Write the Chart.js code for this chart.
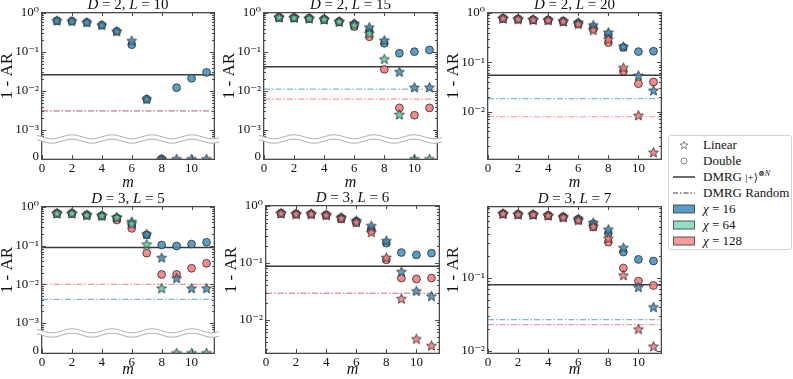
<!DOCTYPE html>
<html>
<head>
<meta charset="utf-8">
<title>1 - AR vs m</title>
<script src="https://cdn.jsdelivr.net/npm/chart.js@4.4.1/dist/chart.umd.min.js"></script>
<style>
  html, body { margin: 0; padding: 0; background: #fff; }
  #wrap { position: relative; width: 793px; height: 379px; overflow: hidden; font-family: "Liberation Serif", "DejaVu Serif", serif; color: #111; }
  #wrap canvas { position: absolute; }
  #legend { position: absolute; left: 668px; top: 135px; width: 124px; height: 115px; box-sizing: border-box; border: 1px solid #d4d4d4; border-radius: 3px; background: #fff; font-size: 13px; }
  #legend .row { position: absolute; left: 0; right: 0; height: 16px; line-height: 16px; }
  #legend svg { position: absolute; left: 4px; top: 3px; }
  #legend .lab { position: absolute; left: 34px; white-space: nowrap; }
  #legend sup { font-size: 8px; line-height: 0; }
</style>
</head>
<body>
<div id="wrap"><div id="legend"></div></div>
<script>
// x axis
const M = [1, 2, 3, 4, 5, 6, 7, 8, 9, 10, 11];
const X_TICKS = [0, 2, 4, 6, 8, 10];
const X_MAX = 11.5;

// panel titles
const TITLE_D = [2, 2, 2, 3, 3, 3];
const TITLE_L = [10, 15, 20, 5, 6, 7];

// 1 - AR, one row per panel. null = series not in panel, 0 = drawn on the "0" axis
const LIN16 = [
  [0.635, 0.62, 0.577, 0.49, 0.34, 0.195, 0.0062, 0, 0, 0, 0],
  [0.776, 0.76, 0.73, 0.69, 0.60, 0.54, 0.43, 0.20, 0.031, 0.0124, 0.0124],
  [0.78, 0.754, 0.73, 0.72, 0.68, 0.646, 0.57, 0.405, 0.21, 0.054, 0.027],
  [0.687, 0.687, 0.62, 0.60, 0.54, 0.417, 0.20, 0.049, 0.0144, 0.0079, 0.0079],
  [0.745, 0.724, 0.724, 0.695, 0.633, 0.552, 0.45, 0.246, 0.070, 0.032, 0.026],
  [0.76, 0.746, 0.74, 0.72, 0.69, 0.65, 0.575, 0.465, 0.26, 0.075, 0.040]
];
const DBL16 = [
  [0.635, 0.62, 0.577, 0.49, 0.34, 0.154, 0.0062, 0, 0.0122, 0.0212, 0.030],
  [0.776, 0.76, 0.73, 0.69, 0.60, 0.52, 0.35, 0.167, 0.093, 0.102, 0.113],
  [0.78, 0.754, 0.73, 0.72, 0.68, 0.62, 0.51, 0.36, 0.20, 0.165, 0.168],
  [0.687, 0.687, 0.62, 0.60, 0.52, 0.34, 0.19, 0.104, 0.098, 0.11, 0.122],
  [0.745, 0.724, 0.724, 0.695, 0.62, 0.54, 0.395, 0.222, 0.152, 0.138, 0.148],
  [0.76, 0.746, 0.74, 0.72, 0.69, 0.64, 0.55, 0.41, 0.227, 0.18, 0.171]
];
const LIN64 = [
  null,
  [0.776, 0.76, 0.73, 0.69, 0.60, 0.49, 0.30, 0.066, 0.0025, 0, 0],
  null,
  [0.687, 0.687, 0.62, 0.60, 0.54, 0.37, 0.109, 0.0079, 0, 0, 0],
  null,
  null
];
const LIN128 = [
  null,
  null,
  [0.78, 0.754, 0.73, 0.72, 0.68, 0.60, 0.45, 0.295, 0.078, 0.0084, 0.0015],
  null,
  [0.745, 0.724, 0.724, 0.695, 0.61, 0.52, 0.346, 0.124, 0.0235, 0.0046, 0.0035],
  [0.76, 0.746, 0.74, 0.72, 0.68, 0.62, 0.51, 0.35, 0.109, 0.020, 0.0116]
];
const DBL128 = [
  null,
  [0.776, 0.76, 0.73, 0.69, 0.60, 0.45, 0.246, 0.036, 0.0037, 0.0024, 0.0037],
  [0.78, 0.754, 0.73, 0.72, 0.68, 0.60, 0.47, 0.252, 0.066, 0.037, 0.040],
  [0.687, 0.687, 0.62, 0.58, 0.46, 0.28, 0.064, 0.018, 0.018, 0.026, 0.035],
  [0.745, 0.724, 0.724, 0.69, 0.59, 0.51, 0.364, 0.113, 0.054, 0.052, 0.054],
  [0.76, 0.746, 0.74, 0.72, 0.68, 0.62, 0.50, 0.31, 0.137, 0.091, 0.079]
];

// reference lines
const DMRG_PLUS = [0.026, 0.042, 0.055, 0.089, 0.087, 0.081];
const RAND16 = [0.0031, 0.0112, 0.0184, 0.0041, 0.029, 0.027];
const RAND128 = [0.0031, 0.0062, 0.0079, 0.010, 0.029, 0.023];

// log axis range, and which panels get the broken "0" axis
const Y_MIN = [5.9e-4, 5.9e-4, 1.1e-3, 5.5e-4, 2.6e-3, 9.4e-3];
const Y_MAX = [1, 1, 1, 1, 1, 0.94];
const BROKEN = [true, true, false, true, false, false];

// ---- layout / style ----
const LAYOUT = [
  {left: 42, width: 172, top: 13, bottom: 159, cut: 139},
  {left: 264, width: 173, top: 13, bottom: 159, cut: 139},
  {left: 488, width: 173, top: 13, bottom: 159},
  {left: 42, width: 172, top: 207, bottom: 353, cut: 333},
  {left: 266, width: 173, top: 206, bottom: 353},
  {left: 488, width: 173, top: 207, bottom: 353}
];
const ROWS = [{top: 0, height: 192, label: 76}, {top: 192, height: 187, label: 270}];
const YW = 42;
const SERIF = '"Liberation Serif", "DejaVu Serif", serif';
const EDGE = '#2b2b2b';
const AXIS = '#4a4a4a';
const C16 = 'rgba(72,146,192,0.9)';
const C64 = 'rgba(96,206,160,0.9)';
const C128 = 'rgba(244,124,126,0.9)';
const DASHDOT = [6, 2, 1.5, 2];

const SUP = {'0': '⁰', '1': '¹', '2': '²', '3': '³', '4': '⁴', '-': '⁻'};
const sup = n => String(n).split('').map(c => SUP[c]).join('');

function starImage(fill, R) {
  const s = Math.ceil(2 * R + 2);
  const c = document.createElement('canvas');
  c.width = s; c.height = s;
  const g = c.getContext('2d');
  g.beginPath();
  for (let k = 0; k < 10; k++) {
    const r = k % 2 ? R * 0.45 : R;
    const a = -Math.PI / 2 + k * Math.PI / 5;
    g.lineTo(s / 2 + r * Math.cos(a), s / 2 + r * Math.sin(a) + 0.4);
  }
  g.closePath();
  g.fillStyle = fill; g.fill();
  g.lineWidth = 0.8; g.strokeStyle = EDGE; g.stroke();
  return c;
}

// bottom -> top drawing order
const SERIES = [
  {rows: DBL16, color: C16, shape: 'circle'},
  {rows: DBL128, color: C128, shape: 'circle'},
  {rows: LIN16, color: C16, shape: 'star'},
  {rows: LIN64, color: C64, shape: 'star'},
  {rows: LIN128, color: C128, shape: 'star'}
];
const LINES = [
  {rows: RAND16, color: 'rgba(120,178,214,0.95)', width: 1.2, dash: DASHDOT},
  {rows: RAND128, color: 'rgba(246,140,142,0.9)', width: 1.2, dash: DASHDOT},
  {rows: DMRG_PLUS, color: '#3a3a3a', width: 1.5, dash: []}
];

const wrap = document.getElementById('wrap');

function decoPlugin(i) {
  const row = ROWS[i < 3 ? 0 : 1];
  return {
    id: 'deco' + i,
    afterDraw(chart) {
      const ctx = chart.ctx;
      const a = chart.chartArea;
      const ys = chart.scales.y, xs = chart.scales.x;
      const L0 = Math.round(a.left), R0 = Math.round(a.right), T0 = Math.round(a.top), B0 = Math.round(a.bottom);
      ctx.save();
      ctx.fillStyle = AXIS;
      // log ticks (inside, both sides)
      for (let e = Math.floor(Math.log10(ys.min)); e <= 0; e++) {
        for (let k = 1; k < 10; k++) {
          const v = k * Math.pow(10, e);
          if (v < ys.min || v > ys.max * 1.0001) continue;
          const py = Math.round(ys.getPixelForValue(v));
          const len = k === 1 ? 4 : 2;
          ctx.fillRect(L0, py, len, 1);
          ctx.fillRect(R0 - len, py, len, 1);
        }
      }
      X_TICKS.forEach(v => {
        const px = Math.round(xs.getPixelForValue(v));
        ctx.fillRect(px, B0 - 4, 1, 4);
        ctx.fillRect(px, T0, 1, 3);
      });
      // frame
      ctx.fillRect(L0 - 1, T0 - 1, R0 - L0 + 2, 1.3);
      ctx.fillRect(L0 - 1, B0 - 0.3, R0 - L0 + 2, 1.3);
      ctx.fillRect(L0 - 1, T0 - 1, 1.3, B0 - T0 + 2);
      ctx.fillRect(R0 - 0.3, T0 - 1, 1.3, B0 - T0 + 2);
      // axis break
      if (BROKEN[i]) {
        const yb = ys.bottom;
        const x0 = L0 - 5, x1 = R0 + 5, amp = 2, per = 40, gap = 2.2;
        const w = (x, off) => yb + off + amp * Math.sin((x - L0) / per * 2 * Math.PI);
        ctx.beginPath();
        for (let x = x0; x <= x1; x++) ctx.lineTo(x, w(x, -gap));
        for (let x = x1; x >= x0; x--) ctx.lineTo(x, w(x, gap));
        ctx.closePath();
        ctx.fillStyle = '#fff';
        ctx.fill();
        ctx.strokeStyle = '#b0b0b0';
        ctx.lineWidth = 1;
        [-gap, gap].forEach(off => {
          ctx.beginPath();
          for (let x = x0; x <= x1; x++) ctx.lineTo(x, w(x, off));
          ctx.stroke();
        });
        // "0" of the lower axis
        ctx.fillStyle = '#111';
        ctx.font = '13px ' + SERIF;
        ctx.textAlign = 'right';
        ctx.textBaseline = 'middle';
        ctx.fillText('0', L0 - 3, B0 - 2);
      }
      // title
      ctx.fillStyle = '#111';
      ctx.textBaseline = 'middle';
      ctx.textAlign = 'left';
      const parts = [['D', true], [' = ' + TITLE_D[i] + ', ', false], ['L', true], [' = ' + TITLE_L[i], false]];
      const fnt = it => (it ? 'italic ' : '') + '15px ' + SERIF;
      let tw = 0;
      parts.forEach(p => { ctx.font = fnt(p[1]); tw += ctx.measureText(p[0]).width; });
      let tx = (a.left + a.right) / 2 - tw / 2;
      parts.forEach(p => { ctx.font = fnt(p[1]); ctx.fillText(p[0], tx, a.top - 8); tx += ctx.measureText(p[0]).width; });
      // y label
      ctx.save();
      ctx.translate(YW - 34, row.label - row.top);
      ctx.rotate(-Math.PI / 2);
      ctx.textAlign = 'center';
      ctx.font = '17px ' + SERIF;
      ctx.fillText('1 - AR', 0, 0);
      ctx.restore();
      ctx.restore();
    }
  };
}

function makeChart(i) {
  const P = LAYOUT[i];
  const row = ROWS[i < 3 ? 0 : 1];
  const cv = document.createElement('canvas');
  const cw = YW + P.width + 12;
  cv.width = cw; cv.height = row.height;
  cv.style.width = cw + 'px'; cv.style.height = row.height + 'px';
  cv.style.left = (P.left - YW) + 'px';
  cv.style.top = row.top + 'px';
  wrap.appendChild(cv);

  const datasets = [];
  LINES.forEach(l => {
    datasets.push({
      data: [{x: 0, y: l.rows[i]}, {x: X_MAX, y: l.rows[i]}],
      yAxisID: 'y', showLine: true, pointRadius: 0,
      borderColor: l.color, borderWidth: l.width, borderDash: l.dash
    });
  });
  SERIES.forEach(s => {
    const vals = s.rows[i];
    if (!vals) return;
    const style = s.shape === 'star'
      ? {pointStyle: starImage(s.color, 5.2), pointRadius: 5}
      : {pointStyle: 'circle', pointRadius: 3.9, pointBackgroundColor: s.color, pointBorderColor: EDGE, pointBorderWidth: 0.8};
    const pts = M.map((m, k) => ({x: m, y: vals[k]}));
    datasets.push(Object.assign({data: pts.filter(p => p.y > 0), yAxisID: 'y'}, style));
    const zeros = pts.filter(p => p.y === 0);
    if (zeros.length && BROKEN[i]) datasets.push(Object.assign({data: zeros, yAxisID: 'z', clip: 0}, style));
  });
  datasets.forEach((d, k) => { d.order = -k; });

  const tickFont = {family: SERIF, size: 13};
  const yMin = Y_MIN[i], yMax = Y_MAX[i];
  const decades = [];
  for (let e = Math.ceil(Math.log10(yMin) - 1e-9); e <= Math.floor(Math.log10(yMax) + 1e-9); e++) decades.push(Math.pow(10, e));
  const noGrid = {display: false, drawTicks: false, tickLength: 0};

  const scales = {};
  // the "0" axis is added first so that it ends up below the log axis in the stack
  if (BROKEN[i]) {
    scales.z = {
      type: 'linear', position: 'left', min: 0, max: 1, stack: 'left', stackWeight: P.bottom - P.cut,
      grid: noGrid, border: {display: false},
      ticks: {display: false}
    };
  }
  scales.x = {
    type: 'linear', min: 0, max: X_MAX,
    grid: noGrid, border: {display: false},
    afterBuildTicks: s => { s.ticks = X_TICKS.map(v => ({value: v})); },
    afterFit: s => { s.height = row.top + row.height - P.bottom; },
    ticks: {font: tickFont, color: '#111', padding: 2, autoSkip: false, maxRotation: 0},
    title: {display: true, text: 'm', color: '#111', font: {family: SERIF, size: 16, style: 'italic'}, padding: {top: 0, bottom: 0}}
  };
  scales.y = {
    type: 'logarithmic', position: 'left', min: yMin, max: yMax,
    grid: noGrid, border: {display: false},
    afterBuildTicks: s => { s.ticks = decades.map(v => ({value: v})); },
    afterFit: s => { s.width = YW; },
    ticks: {font: tickFont, color: '#111', padding: 3, autoSkip: false,
      callback: v => '10' + sup(Math.round(Math.log10(v)))}
  };
  if (BROKEN[i]) {
    scales.y.stack = 'left';
    scales.y.stackWeight = P.cut - P.top;
    scales.z.afterFit = s => { s.width = YW; };
  }

  new Chart(cv, {
    type: 'scatter',
    data: {datasets},
    options: {
      responsive: false, animation: false, events: [],
      layout: {padding: {top: P.top - row.top, right: 12, bottom: 0, left: 0}},
      plugins: {legend: {display: false}, tooltip: {enabled: false}},
      scales
    },
    plugins: [decoPlugin(i)]
  });
}

for (let i = 0; i < 6; i++) makeChart(i);

// legend
function starPts(cx, cy, R) {
  const p = [];
  for (let k = 0; k < 10; k++) {
    const r = k % 2 ? R * 0.45 : R;
    const a = -Math.PI / 2 + k * Math.PI / 5;
    p.push((cx + r * Math.cos(a)).toFixed(2) + ',' + (cy + r * Math.sin(a) + 0.4).toFixed(2));
  }
  return p.join(' ');
}
const LEGEND = [
  {icon: `<polygon points="${starPts(11, 5, 4.2)}" fill="#fff" stroke="#666" stroke-width="0.8"/>`, text: 'Linear'},
  {icon: '<circle cx="11" cy="5" r="3" fill="#fff" stroke="#666" stroke-width="0.8"/>', text: 'Double'},
  {icon: '<line x1="0" y1="5" x2="22" y2="5" stroke="#3a3a3a" stroke-width="1.5"/>', text: 'DMRG <span style="font-size:11px">|+⟩</span><sup>⊗<i>N</i></sup>'},
  {icon: '<line x1="0" y1="5" x2="22" y2="5" stroke="#3a3a3a" stroke-width="1.2" stroke-dasharray="5,2,1.5,2"/>', text: 'DMRG Random'},
  {icon: `<rect x="0.5" y="1" width="21" height="8" fill="${C16}" stroke="#333" stroke-width="0.8"/>`, text: '<i>χ</i> = 16'},
  {icon: `<rect x="0.5" y="1" width="21" height="8" fill="rgba(140,222,190,0.95)" stroke="#333" stroke-width="0.8"/>`, text: '<i>χ</i> = 64'},
  {icon: `<rect x="0.5" y="1" width="21" height="8" fill="rgba(250,150,150,0.95)" stroke="#333" stroke-width="0.8"/>`, text: '<i>χ</i> = 128'}
];
document.getElementById('legend').innerHTML = LEGEND.map((r, k) =>
  `<div class="row" style="top:${1 + 16 * k}px"><svg width="22" height="10">${r.icon}</svg><span class="lab">${r.text}</span></div>`
).join('');
</script>
</body>
</html>
